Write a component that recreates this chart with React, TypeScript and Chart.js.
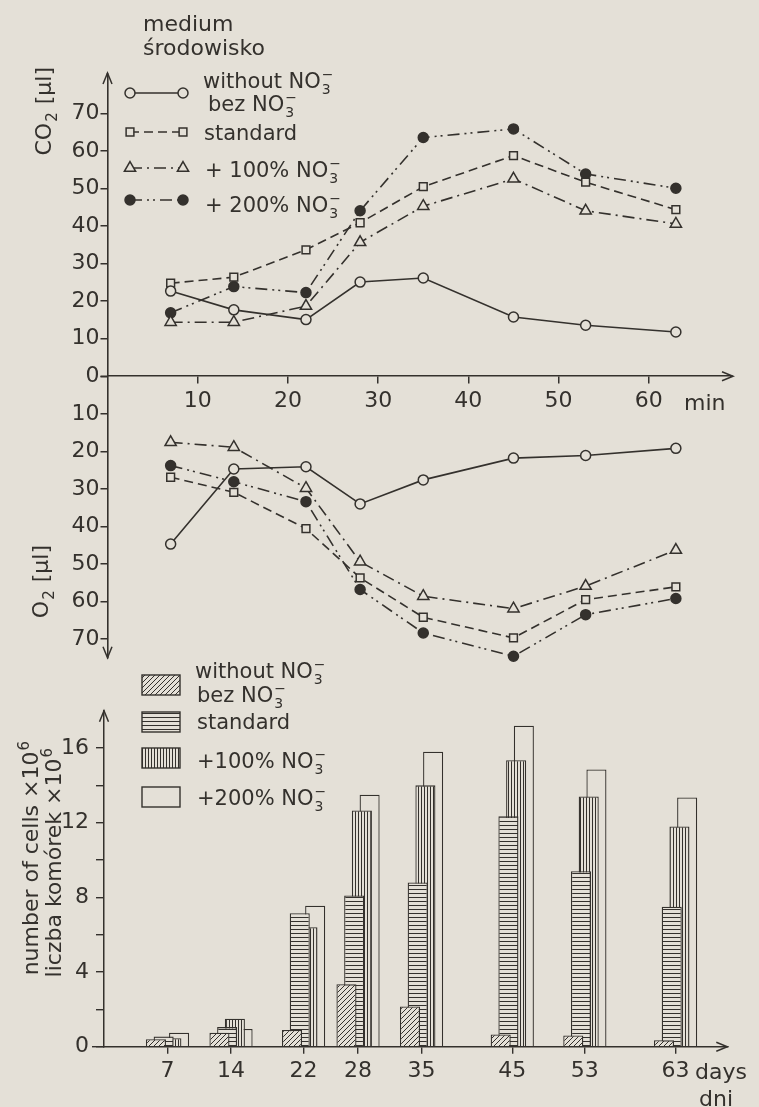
import React, { useEffect, useRef } from 'react';
import { Chart, registerables } from 'chart.js';

Chart.register(...registerables);

// ---------------- data ----------------
const minutes = [7, 14, 22, 28, 35, 45, 53, 63];
const co2Without = [22.7, 17.7, 15.1, 25.1, 26.2, 15.8, 13.6, 11.8];
const co2Standard = [24.8, 26.4, 33.7, 40.9, 50.5, 58.8, 51.7, 44.4];
const co2Plus100 = [14.4, 14.4, 18.7, 35.7, 45.3, 52.6, 44.1, 40.6];
const co2Plus200 = [16.9, 23.9, 22.3, 44.1, 63.6, 65.9, 53.9, 50.1];

const o2Without = [44.7, 24.7, 24.1, 34.0, 27.6, 21.8, 21.1, 19.2];
const o2Standard = [26.9, 30.9, 40.6, 53.7, 64.2, 69.7, 59.5, 56.1];
const o2Plus100 = [17.6, 18.9, 29.8, 49.4, 58.6, 61.9, 55.9, 46.3];
const o2Plus200 = [23.8, 28.1, 33.4, 56.8, 68.4, 74.6, 63.5, 59.2];

const days = [7, 14, 22, 28, 35, 45, 53, 63];
const cellsWithout = [0.4, 0.75, 0.9, 3.35, 2.15, 0.65, 0.6, 0.35];
const cellsStandard = [0.55, 1.05, 7.15, 8.1, 8.8, 12.35, 9.4, 7.5];
const cellsPlus100 = [0.45, 1.5, 6.4, 12.65, 14.0, 15.35, 13.4, 11.8];
const cellsPlus200 = [0.75, 0.95, 7.55, 13.5, 15.8, 17.2, 14.85, 13.35];

const minuteTicks = [10, 20, 30, 40, 50, 60];
const co2Ticks = [0, 10, 20, 30, 40, 50, 60, 70];
const o2Ticks = [10, 20, 30, 40, 50, 60, 70];
const cellTicks = [0, 2, 4, 6, 8, 10, 12, 14, 16];
const cellLabelStep = 4;

const seriesLabels = [['without NO₃⁻', 'bez NO₃⁻'], ['standard'], ['+ 100% NO₃⁻'], ['+ 200% NO₃⁻']];
const barLabels = [['without NO₃⁻', 'bez NO₃⁻'], ['standard'], ['+100% NO₃⁻'], ['+200% NO₃⁻']];
const mediumTitle = ['medium', 'środowisko'];
const co2Title = 'CO₂ [µl]';
const o2Title = 'O₂ [µl]';
const minuteUnit = 'min';
const cellTitle = ['number of cells ×10⁶', 'liczba komórek ×10⁶'];
const dayUnit = ['days', 'dni'];

// ---------------- styles ----------------
const INK = '#34312d';
const PAPER = '#e4e0d7';
const FONT = '"DejaVu Sans", "Liberation Sans", sans-serif';
const FS = 22;

const lineStyles = [
  { dash: [], point: 'circle', radius: 5, filled: false },
  { dash: [9, 5], point: 'rect', radius: 5.5, filled: false },
  { dash: [12, 5, 2, 5], point: 'triangle', radius: 6.5, filled: false },
  { dash: [12, 5, 2, 4, 2, 5], point: 'circle', radius: 5, filled: true },
];
const barFills = ['diag', 'horiz', 'vert', 'none'];

// ---------------- rich text helpers ----------------
const SUB: Record<string, string> = { '₀': '0', '₁': '1', '₂': '2', '₃': '3', '₄': '4', '₅': '5', '₆': '6', '₇': '7', '₈': '8', '₉': '9' };
const SUP: Record<string, string> = { '⁰': '0', '¹': '1', '²': '2', '³': '3', '⁴': '4', '⁵': '5', '⁶': '6', '⁷': '7', '⁸': '8', '⁹': '9', '⁻': '−' };

function layoutRich(ctx: CanvasRenderingContext2D, text: string, size: number) {
  const big = `${size}px ${FONT}`;
  const small = `${Math.round(size * 0.68)}px ${FONT}`;
  const items: { t: string; x: number; dy: number; font: string }[] = [];
  let x = 0;
  let buf = '';
  const flush = () => {
    if (buf) {
      ctx.font = big;
      items.push({ t: buf, x, dy: 0, font: big });
      x += ctx.measureText(buf).width;
      buf = '';
    }
  };
  const chars = Array.from(text);
  for (let i = 0; i < chars.length; i++) {
    const c = chars[i];
    if (SUB[c] || SUP[c]) {
      flush();
      ctx.font = small;
      let w = 0;
      if (SUB[c]) {
        items.push({ t: SUB[c], x: x + 1, dy: size * 0.28, font: small });
        w = ctx.measureText(SUB[c]).width;
        if (chars[i + 1] && SUP[chars[i + 1]]) {
          const s = SUP[chars[i + 1]];
          items.push({ t: s, x: x + 1, dy: -size * 0.45, font: small });
          w = Math.max(w, ctx.measureText(s).width);
          i++;
        }
      } else {
        items.push({ t: SUP[c], x: x + 1, dy: -size * 0.42, font: small });
        w = ctx.measureText(SUP[c]).width;
      }
      x += w + 2;
    } else {
      buf += c;
    }
  }
  flush();
  return { items, width: x };
}

function drawRich(ctx: CanvasRenderingContext2D, text: string, x: number, y: number, size: number, align = 'left') {
  const { items, width } = layoutRich(ctx, text, size);
  const off = align === 'center' ? -width / 2 : align === 'right' ? -width : 0;
  ctx.save();
  ctx.fillStyle = INK;
  ctx.textBaseline = 'alphabetic';
  ctx.textAlign = 'left';
  for (const it of items) {
    ctx.font = it.font;
    ctx.fillText(it.t, x + off + it.x, y + it.dy);
  }
  ctx.restore();
}

function drawRotated(ctx: CanvasRenderingContext2D, text: string, baseX: number, anchorY: number, size: number, align: string) {
  ctx.save();
  ctx.translate(baseX, anchorY);
  ctx.rotate(-Math.PI / 2);
  drawRich(ctx, text, 0, 0, size, align);
  ctx.restore();
}

function drawMarker(ctx: CanvasRenderingContext2D, style: any, x: number, y: number) {
  ctx.save();
  ctx.setLineDash([]);
  ctx.lineWidth = 1.5;
  ctx.strokeStyle = INK;
  ctx.fillStyle = style.filled ? INK : PAPER;
  ctx.beginPath();
  const r = style.radius;
  if (style.point === 'circle') {
    ctx.arc(x, y, r, 0, Math.PI * 2);
  } else if (style.point === 'rect') {
    const s = r * Math.SQRT1_2;
    ctx.rect(x - s, y - s, 2 * s, 2 * s);
  } else {
    let a = 0;
    ctx.moveTo(x + Math.sin(a) * r, y - Math.cos(a) * r);
    a += (2 * Math.PI) / 3;
    ctx.lineTo(x + Math.sin(a) * r, y - Math.cos(a) * r);
    a += (2 * Math.PI) / 3;
    ctx.lineTo(x + Math.sin(a) * r, y - Math.cos(a) * r);
    ctx.closePath();
  }
  ctx.fill();
  ctx.stroke();
  ctx.restore();
}

function arrow(ctx: CanvasRenderingContext2D, x: number, y: number, dir: string) {
  ctx.save();
  ctx.strokeStyle = INK;
  ctx.lineWidth = 1.5;
  ctx.setLineDash([]);
  ctx.beginPath();
  if (dir === 'up') {
    ctx.moveTo(x - 4.5, y + 11); ctx.lineTo(x, y); ctx.lineTo(x + 4.5, y + 11);
  } else if (dir === 'down') {
    ctx.moveTo(x - 4.5, y - 11); ctx.lineTo(x, y); ctx.lineTo(x + 4.5, y - 11);
  } else {
    ctx.moveTo(x - 11, y - 4.5); ctx.lineTo(x, y); ctx.lineTo(x - 11, y + 4.5);
  }
  ctx.stroke();
  ctx.restore();
}

function makePattern(ctx: CanvasRenderingContext2D, kind: string): any {
  if (kind === 'none') return PAPER;
  const s = kind === 'diag' ? 5 : kind === 'horiz' ? 4 : 3;
  const c = document.createElement('canvas');
  c.width = s;
  c.height = s;
  const g = c.getContext('2d')!;
  g.fillStyle = PAPER;
  g.fillRect(0, 0, s, s);
  g.strokeStyle = INK;
  g.lineWidth = 1;
  g.beginPath();
  if (kind === 'horiz') {
    g.moveTo(0, 1.5); g.lineTo(s, 1.5);
  } else if (kind === 'vert') {
    g.moveTo(1.5, 0); g.lineTo(1.5, s);
  } else {
    g.moveTo(-1, s + 1); g.lineTo(s + 1, -1);
    g.moveTo(-1, 1); g.lineTo(1, -1);
    g.moveTo(s - 1, s + 1); g.lineTo(s + 1, s - 1);
  }
  g.stroke();
  return ctx.createPattern(c, 'repeat');
}

const tickFont = { family: FONT, size: FS };

export default function App() {
  const lineRef = useRef<HTMLCanvasElement>(null);
  const barRef = useRef<HTMLCanvasElement>(null);

  useEffect(() => {
    const co2Series = [co2Without, co2Standard, co2Plus100, co2Plus200];
    const o2Series = [o2Without, o2Standard, o2Plus100, o2Plus200];
    const mkLine = (vals: number[], i: number, sign: number) => {
      const st = lineStyles[i];
      return {
        label: seriesLabels[i][0],
        data: minutes.map((m, k) => ({ x: m, y: sign * vals[k] })),
        borderColor: INK,
        borderWidth: 1.6,
        borderDash: st.dash,
        pointStyle: st.point,
        pointRadius: st.radius,
        pointBackgroundColor: st.filled ? INK : PAPER,
        pointBorderColor: INK,
        pointBorderWidth: 1.5,
        tension: 0,
        fill: false,
        clip: false,
      };
    };
    const lineDatasets = [
      ...co2Series.map((v, i) => mkLine(v, i, 1)),
      ...o2Series.map((v, i) => mkLine(v, i, -1)),
    ];

    const linePlugin = {
      id: 'linedeco',
      afterDraw(chart: any) {
        const ctx = chart.ctx as CanvasRenderingContext2D;
        const a = chart.chartArea;
        const y0 = chart.scales.y.getPixelForValue(0);
        ctx.save();
        ctx.strokeStyle = INK;
        ctx.lineWidth = 1.6;
        ctx.beginPath();
        ctx.moveTo(a.left, a.top); ctx.lineTo(a.left, a.top - 3);
        ctx.moveTo(a.right, y0); ctx.lineTo(a.right + 3, y0);
        ctx.moveTo(a.left, y0); ctx.lineTo(a.left - 7, y0);
        ctx.stroke();
        ctx.restore();
        arrow(ctx, a.left, a.top - 3, 'up');
        arrow(ctx, a.left, a.bottom, 'down');
        arrow(ctx, a.right + 3, y0, 'right');
        drawRich(ctx, mediumTitle[0], 143, 31, FS);
        drawRich(ctx, mediumTitle[1], 143, 55, FS);
        const rowY = [93, 132, 168, 200];
        const textPos = [[[203, 88], [208, 111]], [[204, 140]], [[205, 177]], [[205, 212]]];
        for (let i = 0; i < 4; i++) {
          const st = lineStyles[i];
          ctx.save();
          ctx.strokeStyle = INK;
          ctx.lineWidth = 1.6;
          ctx.setLineDash(st.dash);
          ctx.beginPath();
          ctx.moveTo(130, rowY[i]);
          ctx.lineTo(183, rowY[i]);
          ctx.stroke();
          ctx.restore();
          drawMarker(ctx, st, 130, rowY[i]);
          drawMarker(ctx, st, 183, rowY[i]);
          seriesLabels[i].forEach((t, k) => drawRich(ctx, t, textPos[i][k][0], textPos[i][k][1], 21));
        }
        drawRotated(ctx, co2Title, 51, 67, FS, 'right');
        drawRotated(ctx, o2Title, 48, 545, FS, 'right');
        drawRich(ctx, minuteUnit, 684, y0 + 34, FS);
      },
    };

    const c1 = new Chart(lineRef.current!, {
      type: 'line',
      data: { datasets: lineDatasets as any },
      options: {
        animation: false,
        responsive: false,
        events: [],
        layout: { padding: { left: 47.5, right: 29, top: 76, bottom: 14 } },
        plugins: { legend: { display: false }, tooltip: { enabled: false } },
        scales: {
          x: {
            type: 'linear',
            position: { y: 0 } as any,
            min: 0,
            max: 69,
            afterBuildTicks: (s: any) => { s.ticks = minuteTicks.map((v) => ({ value: v })); },
            grid: { drawOnChartArea: false, tickLength: 7, color: INK, lineWidth: 1.5 },
            border: { display: true, color: INK, width: 1.6 },
            ticks: { font: tickFont, color: INK, padding: 5, maxRotation: 0, autoSkip: false },
          },
          y: {
            type: 'linear',
            min: -75,
            max: 80,
            afterFit: (s: any) => { s.width = 60; },
            afterBuildTicks: (s: any) => {
              s.ticks = [
                ...o2Ticks.slice().reverse().map((v) => ({ value: -v })),
                ...co2Ticks.map((v) => ({ value: v })),
              ];
            },
            grid: { drawOnChartArea: false, tickLength: 7, color: INK, lineWidth: 1.5 },
            border: { display: true, color: INK, width: 1.6 },
            ticks: {
              font: tickFont,
              color: INK,
              padding: 1,
              autoSkip: false,
              callback: (v: any) => String(Math.abs(Number(v))),
            },
          },
        },
      },
      plugins: [linePlugin],
    });

    // ---------- bar chart ----------
    const bctx = barRef.current!.getContext('2d')!;
    const patterns = barFills.map((k) => makePattern(bctx, k));
    const cellSeries = [cellsWithout, cellsStandard, cellsPlus100, cellsPlus200];
    const barDatasets = cellSeries.map((vals, i) => ({
      label: barLabels[i][0],
      data: days.map((d, k) => ({ x: d, y: vals[k] })),
      backgroundColor: patterns[i],
      borderColor: INK,
      borderWidth: 1.3,
      borderSkipped: 'bottom',
      categoryPercentage: 0.567,
      barPercentage: 2.6,
    }));

    const barPlugin = {
      id: 'bardeco',
      afterDraw(chart: any) {
        const ctx = chart.ctx as CanvasRenderingContext2D;
        const a = chart.chartArea;
        arrow(ctx, a.left, a.top, 'up');
        arrow(ctx, a.right, a.bottom, 'right');
        ctx.save();
        ctx.strokeStyle = INK;
        ctx.lineWidth = 1.4;
        ctx.beginPath();
        ctx.moveTo(a.left, a.bottom);
        ctx.lineTo(a.left - 12, a.bottom);
        ctx.stroke();
        ctx.restore();
        const boxY = [35, 72, 108, 147];
        const textPos = [[[195, 38], [197, 62]], [[197, 89]], [[197, 128]], [[197, 165]]];
        for (let i = 0; i < 4; i++) {
          ctx.save();
          ctx.fillStyle = patterns[i];
          ctx.fillRect(142, boxY[i], 38, 20);
          ctx.strokeStyle = INK;
          ctx.lineWidth = 1.4;
          ctx.strokeRect(142, boxY[i], 38, 20);
          ctx.restore();
          barLabels[i].forEach((t, k) => drawRich(ctx, t, textPos[i][k][0], textPos[i][k][1], 21));
        }
        drawRotated(ctx, cellTitle[0], 38, 100, FS, 'right');
        drawRotated(ctx, cellTitle[1], 61, 107, FS, 'right');
        drawRich(ctx, dayUnit[0], 695, a.bottom + 32, FS);
        drawRich(ctx, dayUnit[1], 699, 466, FS);
      },
    };

    const c2 = new Chart(barRef.current!, {
      type: 'bar',
      data: { datasets: barDatasets as any },
      options: {
        animation: false,
        responsive: false,
        events: [],
        layout: { padding: { left: 44, right: 31.7, top: 70.7, bottom: 20.3 } },
        plugins: { legend: { display: false }, tooltip: { enabled: false } },
        scales: {
          x: {
            type: 'linear',
            min: 0,
            max: 68.7,
            offset: false,
            afterFit: (s: any) => { s.height = 40; },
            afterBuildTicks: (s: any) => { s.ticks = days.map((v) => ({ value: v })); },
            grid: { offset: false, drawOnChartArea: false, tickLength: 7, color: INK, lineWidth: 1.4 },
            border: { display: true, color: INK, width: 1.5 },
            ticks: { font: tickFont, color: INK, padding: 4, maxRotation: 0, autoSkip: false },
          },
          y: {
            type: 'linear',
            min: 0,
            max: 18,
            afterFit: (s: any) => { s.width = 60; },
            afterBuildTicks: (s: any) => { s.ticks = cellTicks.map((v) => ({ value: v })); },
            grid: { drawOnChartArea: false, tickLength: 8, color: INK, lineWidth: 1.4 },
            border: { display: true, color: INK, width: 1.5 },
            ticks: {
              font: tickFont,
              color: INK,
              padding: 7,
              autoSkip: false,
              callback: (v: any) => (Number(v) % cellLabelStep === 0 ? String(v) : ''),
            },
          },
        },
      },
      plugins: [barPlugin],
    });

    return () => {
      c1.destroy();
      c2.destroy();
    };
  }, []);

  return (
    <div style={{ position: 'absolute', left: 0, top: 0, width: 759, height: 1107, background: PAPER, overflow: 'hidden' }}>
      <canvas ref={lineRef} width={759} height={672} style={{ position: 'absolute', left: 0, top: 0, width: 759, height: 672 }} />
      <canvas ref={barRef} width={759} height={467} style={{ position: 'absolute', left: 0, top: 640, width: 759, height: 467 }} />
    </div>
  );
}
